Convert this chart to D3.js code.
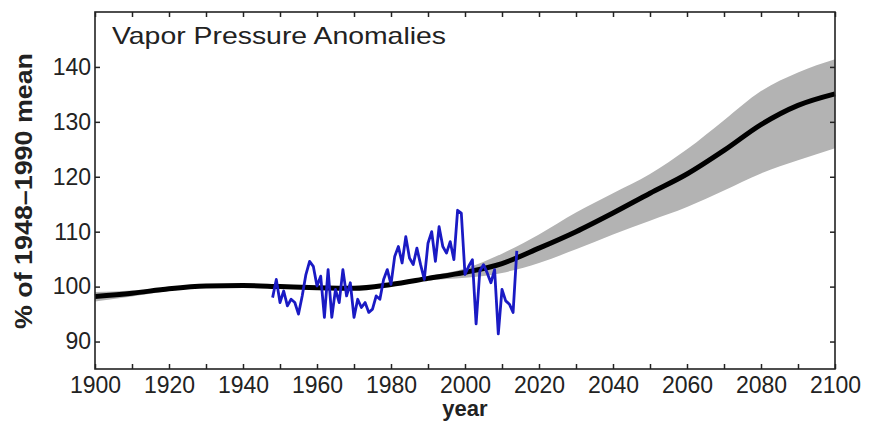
<!DOCTYPE html>
<html>
<head>
<meta charset="utf-8">
<script src="https://cdn.jsdelivr.net/npm/d3@7"></script>
<style>
  body { margin: 0; background: #fff; }
  text { font-family: "Liberation Sans", Arial, Helvetica, sans-serif; fill: #222; }
  .axis line { stroke: #222; stroke-width: 1.5; }
</style>
</head>
<body>
<svg id="chart" width="870" height="421"></svg>
<script>
// decadal projection curve (mean and spread)
var decades = [1900, 1910, 1920, 1930, 1940, 1950, 1960, 1970, 1980, 1990, 2000,
  2010, 2020, 2030, 2040, 2050, 2060, 2070, 2080, 2090, 2100];
var meanVals = [98.2, 98.8, 99.6, 100.1, 100.2, 100.0, 99.8, 99.7, 100.4, 101.5, 102.6,
  104.2, 107.0, 110.0, 113.4, 117.0, 120.5, 124.8, 129.5, 133.0, 135.1];
var upperVals = [99.0, 99.3, 99.9, 100.4, 100.5, 100.3, 100.1, 100.0, 100.7, 101.9, 103.3,
  106.0, 109.5, 113.5, 117.0, 120.5, 125.0, 130.3, 135.6, 139.0, 141.4];
var lowerVals = [97.3, 98.2, 99.2, 99.8, 99.9, 99.7, 99.5, 99.4, 100.1, 101.1, 101.6,
  102.5, 104.3, 106.8, 109.5, 112.0, 114.5, 117.5, 120.6, 123.0, 125.2];

// observed annual anomalies 1948-2014
var obsStart = 1948;
var obsVals = [98.0, 101.3, 97.1, 99.2, 96.5, 97.7, 97.1, 95.0, 98.3, 102.2,
  104.6, 103.7, 100.1, 101.9, 94.4, 103.1, 94.4, 99.5, 97.1, 103.1,
  98.3, 100.7, 94.4, 97.7, 96.2, 97.1, 95.3, 95.9, 98.3, 97.7,
  101.3, 103.1, 100.4, 105.5, 107.3, 104.3, 109.1, 105.2, 104.0, 107.0,
  104.0, 101.3, 107.9, 110.0, 104.6, 110.9, 107.3, 106.1, 108.2, 104.9,
  113.9, 113.4, 102.2, 103.7, 104.9, 93.2, 102.8, 104.0, 102.5, 100.7,
  103.1, 91.4, 99.5, 97.4, 96.8, 95.3, 106.5];

var xTicks = [1900, 1910, 1920, 1930, 1940, 1950, 1960, 1970, 1980, 1990, 2000,
  2010, 2020, 2030, 2040, 2050, 2060, 2070, 2080, 2090, 2100];
var xLabels = [1900, 1920, 1940, 1960, 1980, 2000, 2020, 2040, 2060, 2080, 2100];
var yTicks = [90, 100, 110, 120, 130, 140];

var svg = d3.select("#chart");
var margin = {top: 12, right: 35, bottom: 52, left: 95},
  width = 870 - margin.left - margin.right,
  height = 421 - margin.top - margin.bottom;

var x = d3.scaleLinear().domain([1900, 2100]).range([0, width]);
var y = d3.scaleLinear().domain([85, 150]).range([height, 0]);

var proj = decades.map(function(d, i) {
  return {year: d, mean: meanVals[i], lo: lowerVals[i], hi: upperVals[i]};
});
var obs = obsVals.map(function(v, i) { return {year: obsStart + i, value: v}; });

var g = svg.append("g")
  .attr("transform", "translate(" + margin.left + "," + margin.top + ")");

var band = d3.area()
  .curve(d3.curveMonotoneX)
  .x(function(d) { return x(d.year); })
  .y0(function(d) { return y(d.lo); })
  .y1(function(d) { return y(d.hi); });

var meanLine = d3.line()
  .curve(d3.curveMonotoneX)
  .x(function(d) { return x(d.year); })
  .y(function(d) { return y(d.mean); });

var obsLine = d3.line()
  .x(function(d) { return x(d.year); })
  .y(function(d) { return y(d.value); });

g.append("path")
  .datum(proj)
  .attr("fill", "#b3b3b3")
  .attr("d", band);

g.append("path")
  .datum(proj)
  .attr("fill", "none")
  .attr("stroke", "#000")
  .attr("stroke-width", 5)
  .attr("d", meanLine);

g.append("path")
  .datum(obs)
  .attr("fill", "none")
  .attr("stroke", "#1a1ac4")
  .attr("stroke-width", 2.8)
  .attr("stroke-linejoin", "round")
  .attr("d", obsLine);

// axes: ticks point inward on all four sides
var fmt = function(d) { return xLabels.indexOf(d) >= 0 ? d : ""; };

g.append("g")
  .attr("class", "axis")
  .attr("transform", "translate(0," + height + ")")
  .call(d3.axisBottom(x).tickValues(xTicks).tickSize(-5).tickPadding(8).tickFormat(fmt));

g.append("g")
  .attr("class", "axis")
  .call(d3.axisTop(x).tickValues(xTicks).tickSize(-5).tickFormat(""));

g.append("g")
  .attr("class", "axis")
  .call(d3.axisLeft(y).tickValues(yTicks).tickSize(-5).tickPadding(4));

g.append("g")
  .attr("class", "axis")
  .attr("transform", "translate(" + width + ",0)")
  .call(d3.axisRight(y).tickValues(yTicks).tickSize(-5).tickFormat(""));

g.selectAll(".axis .domain").remove();
g.selectAll(".axis text")
  .style("font-size", "23px")
  .attr("fill", "#222");

g.append("rect")
  .attr("width", width)
  .attr("height", height)
  .attr("fill", "none")
  .attr("stroke", "#222")
  .attr("stroke-width", 1.6);

g.append("text")
  .attr("x", 17)
  .attr("y", 32)
  .attr("textLength", 334)
  .attr("lengthAdjust", "spacingAndGlyphs")
  .style("font-size", "24px")
  .text("Vapor Pressure Anomalies");

svg.append("text")
  .attr("transform", "translate(32,191) rotate(-90)")
  .attr("text-anchor", "middle")
  .attr("textLength", 276)
  .attr("lengthAdjust", "spacingAndGlyphs")
  .style("font-size", "23px")
  .style("font-weight", "bold")
  .text("% of 1948\u20131990 mean");

svg.append("text")
  .attr("x", 465)
  .attr("y", 416)
  .attr("text-anchor", "middle")
  .style("font-size", "22px")
  .style("font-weight", "bold")
  .text("year");
</script>
</body>
</html>
